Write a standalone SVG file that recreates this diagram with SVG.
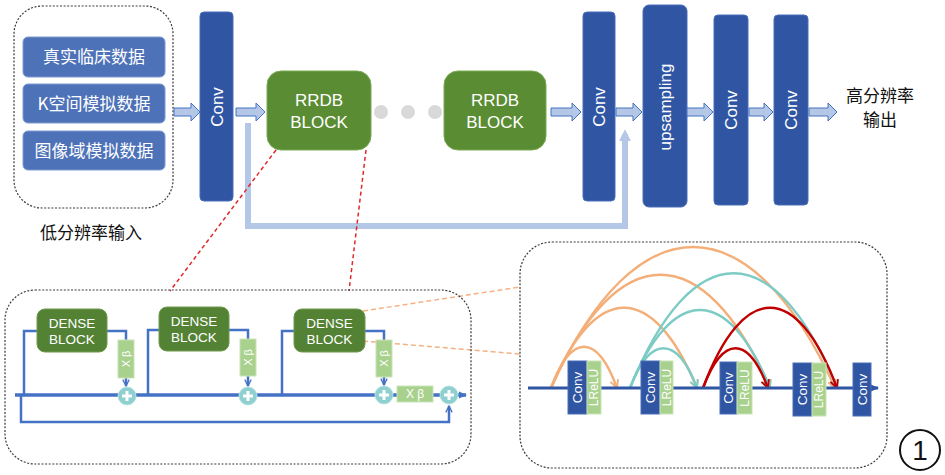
<svg xmlns="http://www.w3.org/2000/svg" width="945" height="475" viewBox="0 0 945 475">
<defs>
<style>
.dash{fill:none;stroke:#3a3a3a;stroke-width:1.2;stroke-dasharray:2 1.6}
.inbox{fill:#4e72b8;stroke:#7d9bd3;stroke-width:1}
.conv{fill:#2f55a3;stroke:#4a6fb8;stroke-width:1}
.rrdb{fill:#5a8c34;stroke:#7aab55;stroke-width:1}
.dense{fill:#548235;stroke:#6f9a4d;stroke-width:1}
.xb{fill:#a9d18e;stroke:#c9e3b8;stroke-width:1}
.fat{fill:#b4c7e7;stroke:#4472c4;stroke-width:1}
.wt{fill:#fff;font-family:"Liberation Sans",Arial,"Noto Sans CJK SC",sans-serif}
.cn{fill:#fff;font-family:"Noto Sans CJK SC",sans-serif;font-size:17px}
.bk{fill:#111;font-family:"Noto Sans CJK SC",sans-serif;font-size:17px}
.ln{fill:none;stroke:#4472c4;stroke-width:2.5}
.plus circle{fill:#8ecfcf;stroke:#b7e2e2;stroke-width:1}
.plus path{stroke:#fff;stroke-width:3;fill:none}
.arc{fill:none;stroke-width:2.4}
.or{stroke:#f4ae78}
.te{stroke:#7ccbc5}
.rd{stroke:#c00000}
</style>
<marker id="mo" viewBox="0 0 10 10" refX="9" refY="5" markerWidth="10" markerHeight="10" markerUnits="userSpaceOnUse" orient="auto"><path d="M1,1 L9,5 L1,9" fill="none" stroke="#f4ae78" stroke-width="1.8"/></marker>
<marker id="mt" viewBox="0 0 10 10" refX="9" refY="5" markerWidth="10" markerHeight="10" markerUnits="userSpaceOnUse" orient="auto"><path d="M1,1 L9,5 L1,9" fill="none" stroke="#7ccbc5" stroke-width="1.8"/></marker>
<marker id="mr" viewBox="0 0 10 10" refX="9" refY="5" markerWidth="10" markerHeight="10" markerUnits="userSpaceOnUse" orient="auto"><path d="M1,1 L9,5 L1,9" fill="none" stroke="#c00000" stroke-width="1.8"/></marker>
<marker id="mb" viewBox="0 0 10 10" refX="9" refY="5" markerWidth="8" markerHeight="8" markerUnits="userSpaceOnUse" orient="auto"><path d="M1,1 L9,5 L1,9" fill="none" stroke="#4472c4" stroke-width="1.6"/></marker>
<marker id="mbf" viewBox="0 0 10 10" refX="8" refY="5" markerWidth="9" markerHeight="9" markerUnits="userSpaceOnUse" orient="auto"><path d="M0,1 L9,5 L0,9 Z" fill="#4472c4"/></marker>
<marker id="mdf" viewBox="0 0 10 10" refX="8" refY="5" markerWidth="9" markerHeight="9" markerUnits="userSpaceOnUse" orient="auto"><path d="M0,1 L9,5 L0,9 Z" fill="#2f55a3"/></marker>
<marker id="mlb" viewBox="0 0 10 10" refX="6" refY="5" markerWidth="12" markerHeight="12" markerUnits="userSpaceOnUse" orient="auto"><path d="M0,0 L10,5 L0,10 Z" fill="#b4c7e7"/></marker>
</defs>
<rect width="945" height="475" fill="#fff"/>

<!-- top section -->
<g id="input-panel">
<rect class="dash" x="14" y="6" width="159" height="202" rx="28"/>
<rect class="inbox" x="23" y="37" width="142" height="40" rx="5"/>
<text class="cn" x="94" y="63" text-anchor="middle">真实临床数据</text>
<rect class="inbox" x="23" y="84" width="142" height="39" rx="5"/>
<text class="cn" x="94" y="110" text-anchor="middle">K空间模拟数据</text>
<rect class="inbox" x="23" y="131" width="142" height="39" rx="5"/>
<text class="cn" x="94" y="157" text-anchor="middle">图像域模拟数据</text>
<text class="bk" x="91" y="239" text-anchor="middle">低分辨率输入</text>
</g>

<g id="conv1"><rect class="conv" x="200" y="12" width="33" height="189" rx="4"/>
<text class="wt" font-size="17" transform="translate(217,107) rotate(-90)" text-anchor="middle" dominant-baseline="central">Conv</text></g>

<g id="rrdb1"><rect class="rrdb" x="267" y="71" width="104" height="79" rx="14"/>
<text class="wt" font-size="17" x="319" y="106" text-anchor="middle">RRDB</text>
<text class="wt" font-size="17" x="319" y="128" text-anchor="middle">BLOCK</text></g>

<g id="dots" fill="#d9d9d9"><circle cx="381" cy="112" r="7"/><circle cx="408" cy="112" r="7"/><circle cx="435" cy="112" r="7"/></g>

<g id="rrdb2"><rect class="rrdb" x="444" y="71" width="102" height="79" rx="14"/>
<text class="wt" font-size="17" x="495" y="106" text-anchor="middle">RRDB</text>
<text class="wt" font-size="17" x="495" y="128" text-anchor="middle">BLOCK</text></g>

<g id="conv2"><rect class="conv" x="583" y="12" width="32" height="189" rx="4"/>
<text class="wt" font-size="17" transform="translate(599,107) rotate(-90)" text-anchor="middle" dominant-baseline="central">Conv</text></g>

<g id="upsampling"><rect class="conv" x="643" y="5" width="44" height="202" rx="6"/>
<text class="wt" font-size="17" transform="translate(665,107) rotate(-90)" text-anchor="middle" dominant-baseline="central">upsampling</text></g>

<g id="conv3"><rect class="conv" x="714" y="15" width="34" height="190" rx="4"/>
<text class="wt" font-size="17" transform="translate(731,110) rotate(-90)" text-anchor="middle" dominant-baseline="central">Conv</text></g>

<g id="conv4"><rect class="conv" x="774" y="15" width="34" height="190" rx="4"/>
<text class="wt" font-size="17" transform="translate(791,110) rotate(-90)" text-anchor="middle" dominant-baseline="central">Conv</text></g>

<g id="output-label">
<text class="bk" x="880" y="102" text-anchor="middle">高分辨率</text>
<text class="bk" x="880" y="126" text-anchor="middle">输出</text>
</g>

<g id="top-connectors">
<path class="fat" d="M174,108 L191,108 L191,103 L200,112 L191,121 L191,116 L174,116 Z"/>
<path class="fat" d="M236,108 L256,108 L256,103 L265,112 L256,121 L256,116 L236,116 Z"/>
<path class="fat" d="M551,108 L572,108 L572,103 L581,112 L572,121 L572,116 L551,116 Z"/>
<path class="fat" d="M616,108 L633,108 L633,103 L642,112 L633,121 L633,116 L616,116 Z"/>
<path class="fat" d="M687,108 L704,108 L704,103 L713,112 L704,121 L704,116 L687,116 Z"/>
<path class="fat" d="M749,108 L764,108 L764,103 L773,112 L764,121 L764,116 L749,116 Z"/>
<path class="fat" d="M809,108 L828,108 L828,103 L837,112 L828,121 L828,116 L809,116 Z"/>
<path d="M248,123 L248,226 L625,226 L625,134" fill="none" stroke="#b4c7e7" stroke-width="6" marker-end="url(#mlb)"/>
<line x1="276" y1="150" x2="170" y2="291" stroke="#e02828" stroke-width="1.5" stroke-dasharray="4 3"/>
<line x1="366" y1="150" x2="349" y2="291" stroke="#e02828" stroke-width="1.5" stroke-dasharray="4 3"/>
<line x1="363" y1="311" x2="520" y2="287" stroke="#f4b183" stroke-width="1.5" stroke-dasharray="5 3"/>
<line x1="363" y1="341" x2="520" y2="354" stroke="#f4b183" stroke-width="1.5" stroke-dasharray="5 3"/>
</g>

<!-- bottom-left RRDB detail -->
<g id="rrdb-panel"><rect class="dash" x="5" y="290" width="466" height="174" rx="30"/></g>

<g id="rrdb-connectors">
<line x1="15" y1="395" x2="466" y2="395" stroke="#4472c4" stroke-width="3.5" marker-end="url(#mbf)"/>
<path class="ln" d="M21,395 L21,422 L449,422 L449,406" marker-end="url(#mb)"/>
<path class="ln" d="M24,395 L24,331 L37,331"/>
<path class="ln" d="M107,331 L126,331 L126,340"/>
<line class="ln" x1="126" y1="378" x2="126" y2="386" stroke-width="1.5" marker-end="url(#mb)"/>
<path class="ln" d="M148,395 L148,330 L159,330"/>
<path class="ln" d="M229,330 L248,330 L248,339"/>
<line class="ln" x1="248" y1="376" x2="248" y2="386" stroke-width="1.5" marker-end="url(#mb)"/>
<path class="ln" d="M282,395 L282,331 L294,331"/>
<path class="ln" d="M365,331 L384,331 L384,340"/>
<line class="ln" x1="384" y1="377" x2="384" y2="385" stroke-width="1.5" marker-end="url(#mb)"/>
</g>

<g id="dense1"><rect class="dense" x="37" y="309" width="70" height="43" rx="8"/>
<text class="wt" font-size="13.5" x="72" y="328" text-anchor="middle">DENSE</text>
<text class="wt" font-size="13.5" x="72" y="344" text-anchor="middle">BLOCK</text></g>
<g id="dense2"><rect class="dense" x="159" y="307" width="70" height="44" rx="8"/>
<text class="wt" font-size="13.5" x="194" y="326" text-anchor="middle">DENSE</text>
<text class="wt" font-size="13.5" x="194" y="342" text-anchor="middle">BLOCK</text></g>
<g id="dense3"><rect class="dense" x="294" y="309" width="71" height="43" rx="8"/>
<text class="wt" font-size="13.5" x="329.5" y="328" text-anchor="middle">DENSE</text>
<text class="wt" font-size="13.5" x="329.5" y="344" text-anchor="middle">BLOCK</text></g>

<g id="xb1"><rect class="xb" x="118" y="340" width="16" height="38"/>
<text class="wt" font-size="11" transform="translate(126,359) rotate(-90)" text-anchor="middle" dominant-baseline="central">X β</text></g>
<g id="xb2"><rect class="xb" x="240" y="339" width="16" height="37"/>
<text class="wt" font-size="11" transform="translate(248,357.5) rotate(-90)" text-anchor="middle" dominant-baseline="central">X β</text></g>
<g id="xb3"><rect class="xb" x="376" y="340" width="16" height="37"/>
<text class="wt" font-size="11" transform="translate(384,358.5) rotate(-90)" text-anchor="middle" dominant-baseline="central">X β</text></g>
<g id="xb4"><rect class="xb" x="397" y="386" width="36" height="16"/>
<text class="wt" font-size="12" x="415" y="394" text-anchor="middle" dominant-baseline="central">X β</text></g>

<g id="plus1" class="plus"><circle cx="127" cy="396" r="9"/><path d="M122,396 H132 M127,391 V401"/></g>
<g id="plus2" class="plus"><circle cx="248" cy="396" r="9"/><path d="M243,396 H253 M248,391 V401"/></g>
<g id="plus3" class="plus"><circle cx="384" cy="395" r="9"/><path d="M379,395 H389 M384,390 V400"/></g>
<g id="plus4" class="plus"><circle cx="449" cy="395" r="9"/><path d="M444,395 H454 M449,390 V400"/></g>

<!-- bottom-right dense block detail -->
<g id="dense-panel"><rect class="dash" x="520" y="242" width="367" height="226" rx="32"/></g>

<g id="dense-connectors">
<path class="arc or" d="M551,388 C571,333 597,333 617,388" marker-end="url(#mo)"/>
<path class="arc or" d="M551,388 C595,281 653,281 697,388" marker-end="url(#mo)"/>
<path class="arc or" d="M551,388 C617,237 704,237 770,388" marker-end="url(#mo)"/>
<path class="arc or" d="M551,388 C636,200 750,200 835,388" marker-end="url(#mo)"/>
<path class="arc te" d="M630,388 C650,335 677,335 697,388" marker-end="url(#mt)"/>
<path class="arc te" d="M630,388 C672,284 728,284 770,388" marker-end="url(#mt)"/>
<path class="arc te" d="M630,388 C692,235 775,235 837,388" marker-end="url(#mt)"/>
<path class="arc rd" d="M703,388 C723,335 748,335 768,388" marker-end="url(#mr)"/>
<path class="arc rd" d="M703,388 C743,281 797,281 837,388" marker-end="url(#mr)"/>
<line x1="528" y1="388" x2="878" y2="388" stroke="#2f55a3" stroke-width="3" marker-end="url(#mdf)"/>
</g>

<g id="blk1"><rect class="conv" x="568" y="361" width="19" height="53"/><rect class="xb" x="587" y="361" width="14" height="53"/>
<text class="wt" font-size="13.5" transform="translate(577.5,387.5) rotate(-90)" text-anchor="middle" dominant-baseline="central">Conv</text>
<text class="wt" font-size="12" transform="translate(594,387.5) rotate(-90)" text-anchor="middle" dominant-baseline="central">LReLU</text></g>
<g id="blk2"><rect class="conv" x="641" y="361" width="19" height="53"/><rect class="xb" x="660" y="361" width="13" height="53"/>
<text class="wt" font-size="13.5" transform="translate(650.5,387.5) rotate(-90)" text-anchor="middle" dominant-baseline="central">Conv</text>
<text class="wt" font-size="12" transform="translate(666.5,387.5) rotate(-90)" text-anchor="middle" dominant-baseline="central">LReLU</text></g>
<g id="blk3"><rect class="conv" x="720" y="362" width="17" height="52"/><rect class="xb" x="737" y="362" width="15" height="52"/>
<text class="wt" font-size="13.5" transform="translate(728.5,388) rotate(-90)" text-anchor="middle" dominant-baseline="central">Conv</text>
<text class="wt" font-size="12" transform="translate(744.5,388) rotate(-90)" text-anchor="middle" dominant-baseline="central">LReLU</text></g>
<g id="blk4"><rect class="conv" x="793" y="363" width="19" height="53"/><rect class="xb" x="812" y="363" width="14" height="53"/>
<text class="wt" font-size="13.5" transform="translate(802.5,389.5) rotate(-90)" text-anchor="middle" dominant-baseline="central">Conv</text>
<text class="wt" font-size="12" transform="translate(819,389.5) rotate(-90)" text-anchor="middle" dominant-baseline="central">LReLU</text></g>
<g id="blk5"><rect class="conv" x="853" y="363" width="18" height="53"/>
<text class="wt" font-size="13.5" transform="translate(862,389.5) rotate(-90)" text-anchor="middle" dominant-baseline="central">Conv</text></g>

<g id="label-1"><circle cx="920" cy="450" r="20" fill="none" stroke="#111" stroke-width="2"/>
<text x="920" y="460" text-anchor="middle" font-family="Liberation Sans,Arial,sans-serif" font-size="28" fill="#111">1</text></g>
</svg>
